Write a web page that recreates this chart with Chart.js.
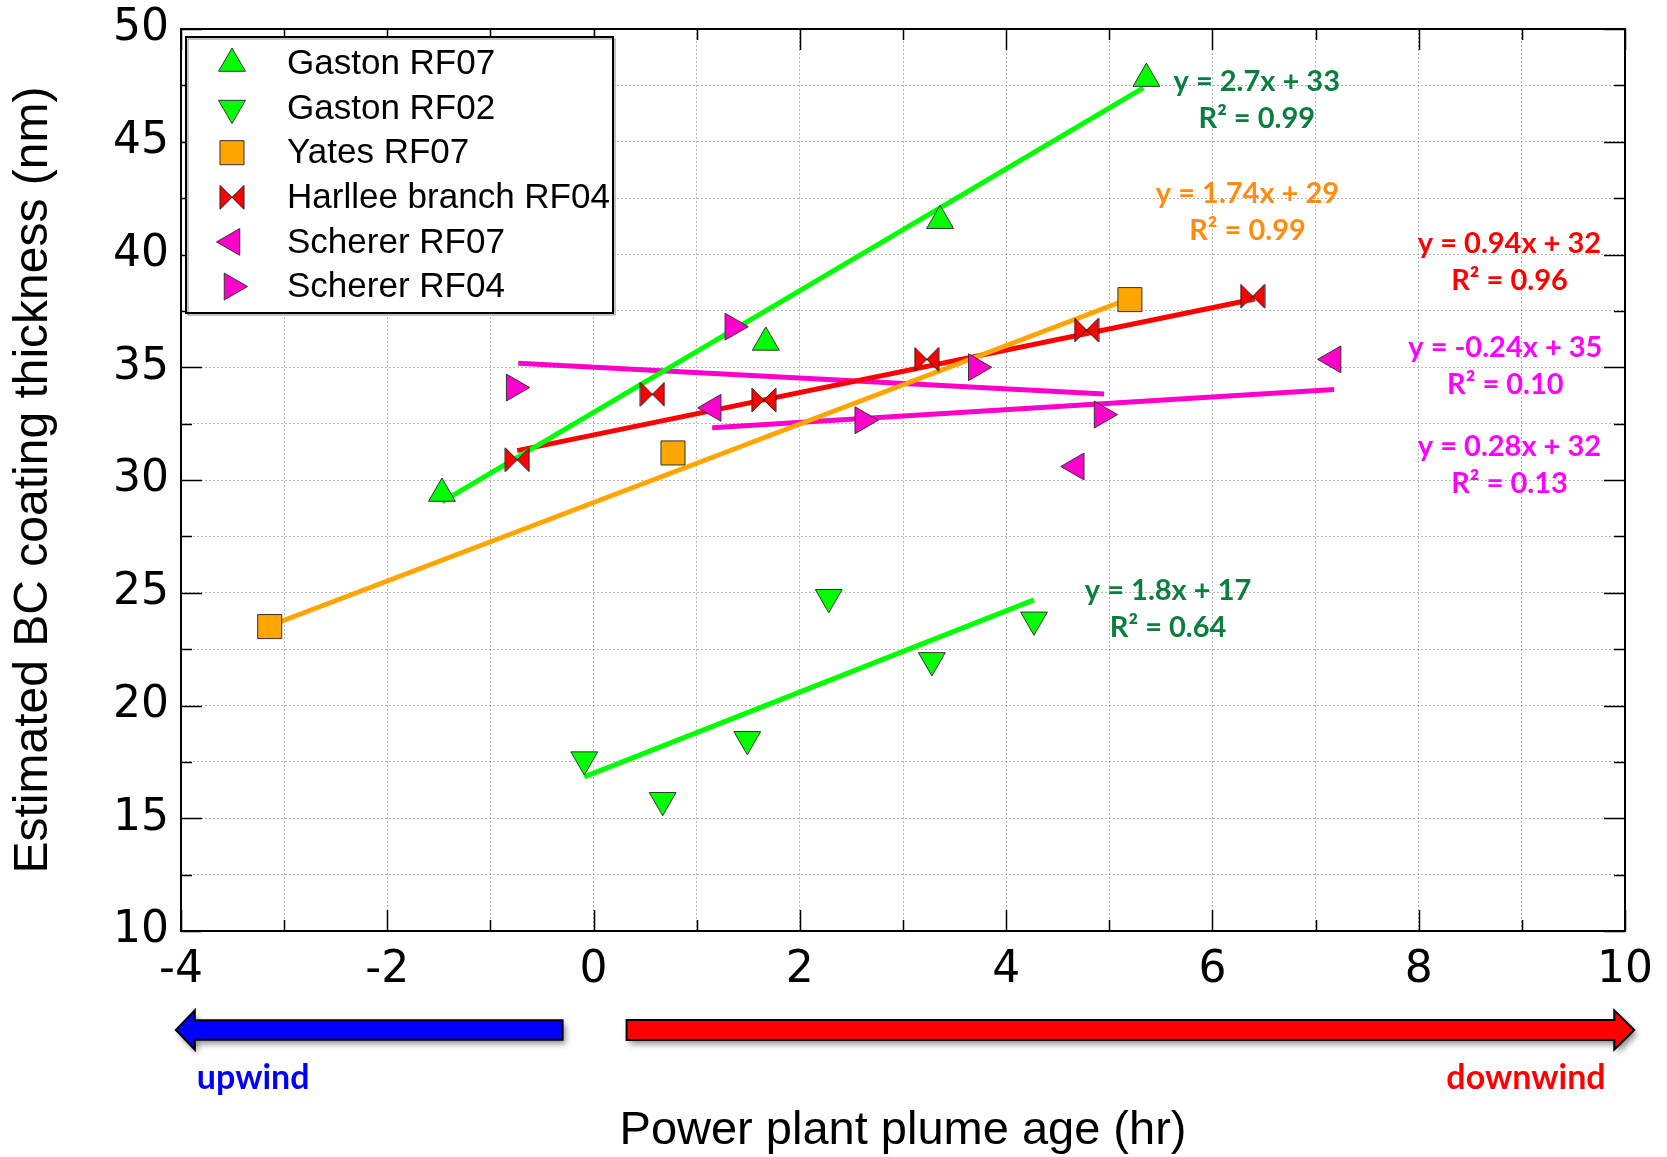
<!DOCTYPE html>
<html>
<head>
<meta charset="utf-8">
<script src="https://cdn.jsdelivr.net/npm/chart.js@4.4.0/dist/chart.umd.min.js"></script>
<style>
  html, body { margin: 0; padding: 0; background: #fff; }
  canvas { display: block; }
</style>
</head>
<body>
<canvas id="myChart" width="1667" height="1157"></canvas>
<script>
// plume age (hr) and estimated BC coating thickness (nm), one pair of arrays per flight
const gastonRF07Age = [-1.47, 1.67, 3.36, 5.36];
const gastonRF07Thick = [29.4, 36.1, 41.5, 47.8];

const gastonRF02Age = [-0.09, 0.67, 1.49, 2.28, 3.28, 4.27];
const gastonRF02Thick = [17.6, 15.8, 18.5, 24.8, 22.0, 23.8];

const yatesRF07Age = [-3.14, 0.77, 5.2];
const yatesRF07Thick = [23.5, 31.2, 38.0];

const harlleeRF04Age = [-0.74, 0.57, 1.65, 3.23, 4.78, 6.39];
const harlleeRF04Thick = [30.9, 33.8, 33.55, 35.35, 36.65, 38.15];

const schererRF07Age = [1.16, 4.68, 7.17];
const schererRF07Thick = [33.2, 30.6, 35.35];

const schererRF04Age = [-0.77, 1.35, 2.61, 3.71, 4.93];
const schererRF04Thick = [34.1, 36.8, 32.65, 35.0, 32.9];

const seriesNames = ['Gaston RF07', 'Gaston RF02', 'Yates RF07', 'Harllee branch RF04', 'Scherer RF07', 'Scherer RF04'];

// linear fits, same order as seriesNames
const fitSlope = [2.7, 1.8, 1.74, 0.94, 0.28, -0.24];
const fitIntercept = [33, 17, 29, 32, 32, 35];
const fitR2 = ['0.99', '0.64', '0.99', '0.96', '0.13', '0.10'];
const fitFrom = [-1.47, -0.09, -3.14, -0.74, 1.15, -0.73];
const fitTo = [5.33, 4.27, 5.2, 6.41, 7.18, 4.95];

// where each fit equation sits (data units, centre of the first line)
const eqAtX = [6.43, 5.57, 6.34, 8.88, 8.88, 8.84];
const eqAtY = [47.65, 25.1, 42.7, 40.5, 31.5, 35.85];

const xTickLabels = ['-4', '-2', '0', '2', '4', '6', '8', '10'];
const yTickLabels = ['10', '15', '20', '25', '30', '35', '40', '45', '50'];

const markerFill = ['#00FF00', '#00FF00', '#FFA500', '#FF0000', '#FF00CC', '#FF00CC'];
const lineColor = ['#00FF00', '#00FF00', '#FFA500', '#FF0000', '#FF00CC', '#FF00CC'];
const eqColor = ['#0B7E3E', '#0B7E3E', '#FF8C0F', '#FF0000', '#FF00FF', '#FF00FF'];

// bow-tie marker for Harllee branch (no built-in point style for it)
function makeBowtie(size, fill) {
    const c = document.createElement('canvas');
    c.width = size + 2;
    c.height = size + 2;
    const g = c.getContext('2d');
    const m = 1, s = size;
    g.beginPath();
    g.moveTo(m, m); g.lineTo(m + s / 2, m + s / 2); g.lineTo(m, m + s); g.closePath();
    g.moveTo(m + s, m); g.lineTo(m + s / 2, m + s / 2); g.lineTo(m + s, m + s); g.closePath();
    g.fillStyle = fill;
    g.fill();
    g.strokeStyle = '#222';
    g.lineWidth = 1;
    g.stroke();
    return c;
}
const bowtie = makeBowtie(24, '#FF0000');

const markerStyle = [
    { pointStyle: 'triangle', rotation: 0, radius: 15.5 },
    { pointStyle: 'triangle', rotation: 180, radius: 15.5 },
    { pointStyle: 'rect', rotation: 0, radius: 17 },
    { pointStyle: bowtie, rotation: 0, radius: 13 },
    { pointStyle: 'triangle', rotation: -90, radius: 15.5 },
    { pointStyle: 'triangle', rotation: 90, radius: 15.5 }
];

const ages = [gastonRF07Age, gastonRF02Age, yatesRF07Age, harlleeRF04Age, schererRF07Age, schererRF04Age];
const thicks = [gastonRF07Thick, gastonRF02Thick, yatesRF07Thick, harlleeRF04Thick, schererRF07Thick, schererRF04Thick];

const datasets = [];
// fit lines first so the markers sit on top
for (let i = 0; i < seriesNames.length; i++) {
    datasets.push({
        label: seriesNames[i] + ' fit',
        data: [
            { x: fitFrom[i], y: fitSlope[i] * fitFrom[i] + fitIntercept[i] },
            { x: fitTo[i], y: fitSlope[i] * fitTo[i] + fitIntercept[i] }
        ],
        showLine: true,
        borderColor: lineColor[i],
        borderWidth: 5,
        borderCapStyle: 'butt',
        pointRadius: 0,
        order: 2
    });
}
for (let i = 0; i < seriesNames.length; i++) {
    datasets.push({
        label: seriesNames[i],
        data: ages[i].map((a, k) => ({ x: a, y: thicks[i][k] })),
        showLine: false,
        pointStyle: markerStyle[i].pointStyle,
        pointRotation: markerStyle[i].rotation,
        pointRadius: markerStyle[i].radius,
        pointBackgroundColor: markerFill[i],
        pointBorderColor: '#333',
        pointBorderWidth: 1,
        order: 1
    });
}

function drawMarker(ctx, i, x, y) {
    const st = markerStyle[i];
    ctx.fillStyle = markerFill[i];
    ctx.strokeStyle = '#333';
    ctx.lineWidth = 1;
    Chart.helpers.drawPoint(ctx, {
        pointStyle: st.pointStyle,
        rotation: st.rotation,
        radius: st.radius,
        borderWidth: 1
    }, x, y);
}

function arrow(ctx, tail, tip, yc, body, head, headLen, fill) {
    const dir = Math.sign(tip - tail);
    const hb = tip - dir * headLen;
    ctx.beginPath();
    ctx.moveTo(tail, yc - body);
    ctx.lineTo(hb, yc - body);
    ctx.lineTo(hb, yc - head);
    ctx.lineTo(tip, yc);
    ctx.lineTo(hb, yc + head);
    ctx.lineTo(hb, yc + body);
    ctx.lineTo(tail, yc + body);
    ctx.closePath();
    ctx.save();
    ctx.shadowColor = 'rgba(0,0,0,0.45)';
    ctx.shadowBlur = 6;
    ctx.shadowOffsetX = 3;
    ctx.shadowOffsetY = 4;
    ctx.fillStyle = fill;
    ctx.fill();
    ctx.restore();
    ctx.lineWidth = 2;
    ctx.strokeStyle = '#000';
    ctx.stroke();
}

const decor = {
    id: 'decor',
    afterDraw(chart) {
        const { ctx, chartArea: a, scales: { x, y } } = chart;
        ctx.save();

        // equations of the fits
        ctx.textAlign = 'center';
        ctx.textBaseline = 'middle';
        ctx.font = 'bold 29px Lato';
        for (let i = 0; i < seriesNames.length; i++) {
            const px = x.getPixelForValue(eqAtX[i]);
            const py = y.getPixelForValue(eqAtY[i]);
            const sign = fitSlope[i] < 0 ? '-' : '';
            ctx.fillStyle = eqColor[i];
            ctx.fillText('y = ' + sign + Math.abs(fitSlope[i]) + 'x + ' + fitIntercept[i], px, py);
            ctx.fillText('R\u00B2 = ' + fitR2[i], px, py + 37);
        }

        // frame and inward ticks
        ctx.strokeStyle = '#000';
        ctx.lineWidth = 2;
        ctx.strokeRect(a.left, a.top, a.right - a.left, a.bottom - a.top);
        ctx.lineWidth = 1.5;
        ctx.beginPath();
        x.ticks.forEach(t => {
            const px = Math.round(x.getPixelForValue(t.value)) + 0.5;
            const len = Math.abs(t.value % 2) < 1e-6 ? 21 : 11;
            ctx.moveTo(px, a.bottom); ctx.lineTo(px, a.bottom - len);
            ctx.moveTo(px, a.top); ctx.lineTo(px, a.top + len);
        });
        y.ticks.forEach(t => {
            const py = Math.round(y.getPixelForValue(t.value)) + 0.5;
            const len = Math.abs(t.value % 5) < 1e-6 ? 21 : 11;
            ctx.moveTo(a.left, py); ctx.lineTo(a.left + len, py);
            ctx.moveTo(a.right, py); ctx.lineTo(a.right - len, py);
        });
        ctx.stroke();

        // tick labels
        ctx.fillStyle = '#000';
        ctx.font = '44px "DejaVu Sans"';
        ctx.textAlign = 'center';
        ctx.textBaseline = 'middle';
        xTickLabels.forEach(l => ctx.fillText(l, x.getPixelForValue(Number(l)), a.bottom + 40));
        ctx.textAlign = 'right';
        yTickLabels.forEach(l => ctx.fillText(l, a.left - 12, y.getPixelForValue(Number(l))));

        // axis titles
        ctx.font = '47px "Liberation Sans"';
        ctx.textAlign = 'center';
        ctx.fillText('Power plant plume age (hr)', (a.left + a.right) / 2, a.bottom + 200);
        ctx.save();
        ctx.translate(34, (a.top + a.bottom) / 2);
        ctx.rotate(-Math.PI / 2);
        ctx.font = '48px "Liberation Sans"';
        ctx.fillText('Estimated BC coating thickness (nm)', 0, 0);
        ctx.restore();

        // upwind / downwind arrows
        const ay = a.bottom + 99;
        arrow(ctx, x.getPixelForValue(-0.3), x.getPixelForValue(-4.05), ay, 9.7, 19.7, 19, '#0000FF');
        arrow(ctx, x.getPixelForValue(0.32), x.getPixelForValue(10.09), ay, 10, 19.7, 20, '#FF0000');
        ctx.font = 'bold 34px Lato';
        ctx.textAlign = 'center';
        ctx.fillStyle = '#0000FF';
        ctx.fillText('upwind', x.getPixelForValue(-3.3), a.bottom + 147);
        ctx.fillStyle = '#FF0000';
        ctx.fillText('downwind', x.getPixelForValue(9.04), a.bottom + 147);

        // legend box
        const bx = a.left + 5, by = a.top + 8, bw = 427, bh = 276;
        ctx.fillStyle = '#fff';
        ctx.fillRect(bx, by, bw, bh);
        ctx.strokeStyle = '#888';
        ctx.lineWidth = 1;
        ctx.strokeRect(bx + 2, by + 2, bw, bh);
        ctx.strokeStyle = '#000';
        ctx.lineWidth = 2;
        ctx.strokeRect(bx, by, bw, bh);
        ctx.font = '35px "Liberation Sans"';
        ctx.textAlign = 'left';
        ctx.textBaseline = 'middle';
        for (let i = 0; i < seriesNames.length; i++) {
            const ry = by + 26.5 + i * 44.6;
            drawMarker(ctx, i, bx + 46, ry);
            ctx.fillStyle = '#000';
            ctx.fillText(seriesNames[i], bx + 101, ry + 1);
        }
        ctx.restore();
    }
};

const ctx = document.getElementById('myChart').getContext('2d');
const myChart = new Chart(ctx, {
    type: 'scatter',
    data: { datasets: datasets },
    options: {
        responsive: false,
        animation: false,
        devicePixelRatio: 1,
        layout: { padding: { top: 29, right: 42, left: 0, bottom: 0 } },
        plugins: {
            legend: { display: false },
            tooltip: { enabled: false }
        },
        scales: {
            x: {
                type: 'linear',
                min: -4,
                max: 10,
                ticks: { stepSize: 1, display: false },
                grid: { color: '#b8b8b8', lineWidth: 1, drawTicks: false },
                border: { display: false, dash: [2, 2] },
                afterFit(scale) { scale.height = 226; }
            },
            y: {
                type: 'linear',
                min: 10,
                max: 50,
                ticks: { stepSize: 2.5, display: false },
                grid: { color: '#b8b8b8', lineWidth: 1, drawTicks: false },
                border: { display: false, dash: [2, 2] },
                afterFit(scale) { scale.width = 181; }
            }
        }
    },
    plugins: [decor]
});
</script>
</body>
</html>
